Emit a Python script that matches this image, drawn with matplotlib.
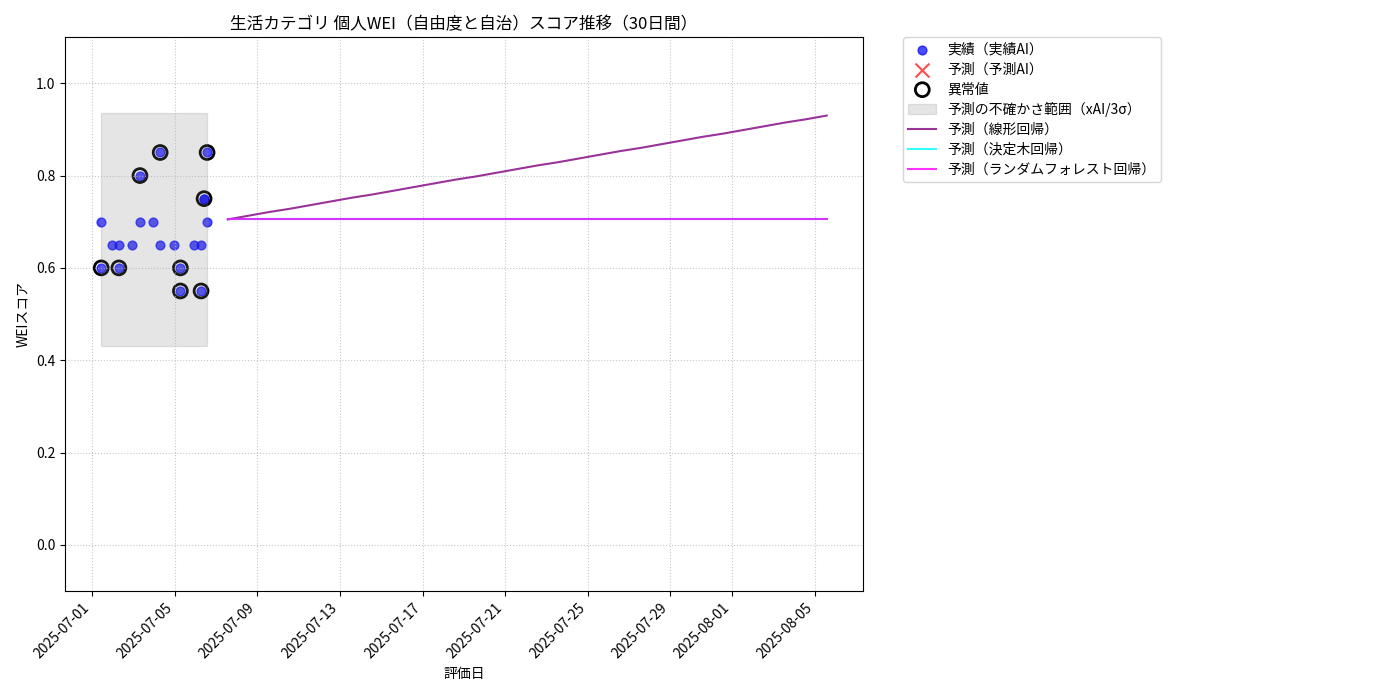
import matplotlib
matplotlib.use("Agg")
import matplotlib.pyplot as plt
import pandas as pd

plt.rcParams['font.family'] = ['Noto Sans CJK JP', 'DejaVu Sans']

# actual records (every record, outliers included)
actual_dates = ["2025-07-01 10:30", "2025-07-01 10:30", "2025-07-01 23:00",
                "2025-07-02 07:00", "2025-07-02 07:00", "2025-07-02 22:00",
                "2025-07-03 07:30", "2025-07-03 07:30", "2025-07-03 22:30",
                "2025-07-04 07:00", "2025-07-04 07:00", "2025-07-04 23:00",
                "2025-07-05 06:30", "2025-07-05 06:30", "2025-07-05 22:30",
                "2025-07-06 06:30", "2025-07-06 06:30", "2025-07-06 10:00",
                "2025-07-06 10:00", "2025-07-06 13:30", "2025-07-06 13:30"]
actual_values = [0.70, 0.60, 0.65,
                 0.65, 0.60, 0.65,
                 0.70, 0.80, 0.70,
                 0.65, 0.85, 0.65,
                 0.60, 0.55, 0.65,
                 0.65, 0.55, 0.75,
                 0.75, 0.70, 0.85]

outlier_dates = ["2025-07-01 10:30", "2025-07-02 07:00", "2025-07-03 07:30",
                 "2025-07-04 07:00", "2025-07-05 06:30", "2025-07-05 06:30",
                 "2025-07-06 06:30", "2025-07-06 10:00", "2025-07-06 13:30"]
outlier_values = [0.60, 0.60, 0.80, 0.85, 0.60, 0.55, 0.55, 0.75, 0.85]

# uncertainty band over the actual period
band_lower = 0.43
band_upper = 0.935

# 30-day forecasts
forecast_start = "2025-07-07 13:30"
lr_pred = [0.705, 0.713, 0.721, 0.728, 0.736, 0.744, 0.752, 0.759, 0.767, 0.775,
           0.783, 0.791, 0.798, 0.806, 0.814, 0.822, 0.829, 0.837, 0.845, 0.853,
           0.860, 0.868, 0.876, 0.884, 0.891, 0.899, 0.907, 0.915, 0.922, 0.930]
tree_pred = [0.707] * 30
rf_pred = [0.707] * 30

actual_dates = pd.to_datetime(actual_dates)
outlier_dates = pd.to_datetime(outlier_dates)
forecast_dates = pd.date_range(forecast_start, periods=len(lr_pred), freq="D")

fig, ax = plt.subplots(figsize=(14, 7), dpi=100)
fig.subplots_adjust(left=0.0464, right=0.6164, top=0.947, bottom=0.1557)

ax.scatter(actual_dates, actual_values, color='blue', alpha=0.7, s=40, label='実績（実績AI）')
ax.scatter([], [], color='red', marker='x', alpha=0.7, s=100, label='予測（予測AI）')
ax.scatter(outlier_dates, outlier_values, facecolors='none', edgecolors='black',
           s=100, linewidths=2, label='異常値')
ax.fill_between([actual_dates.min(), actual_dates.max()], band_lower, band_upper,
                color='gray', alpha=0.2, label='予測の不確かさ範囲（xAI/3σ）')
ax.plot(forecast_dates, lr_pred, color='purple', alpha=0.8, label='予測（線形回帰）')
ax.plot(forecast_dates, tree_pred, color='cyan', alpha=0.8, label='予測（決定木回帰）')
ax.plot(forecast_dates, rf_pred, color='magenta', alpha=0.8, label='予測（ランダムフォレスト回帰）')

ax.set_ylim(-0.1, 1.1)
ax.set_title('生活カテゴリ 個人WEI（自由度と自治）スコア推移（30日間）', fontsize=12)
ax.set_xlabel('評価日')
ax.set_ylabel('WEIスコア')
ax.grid(True, linestyle=':', alpha=0.7)
plt.setp(ax.get_xticklabels(), rotation=45, ha='right')
ax.legend(bbox_to_anchor=(1.05, 1), loc='upper left', borderaxespad=0., labelspacing=0.42)

plt.savefig("out.png")
plt.close()
